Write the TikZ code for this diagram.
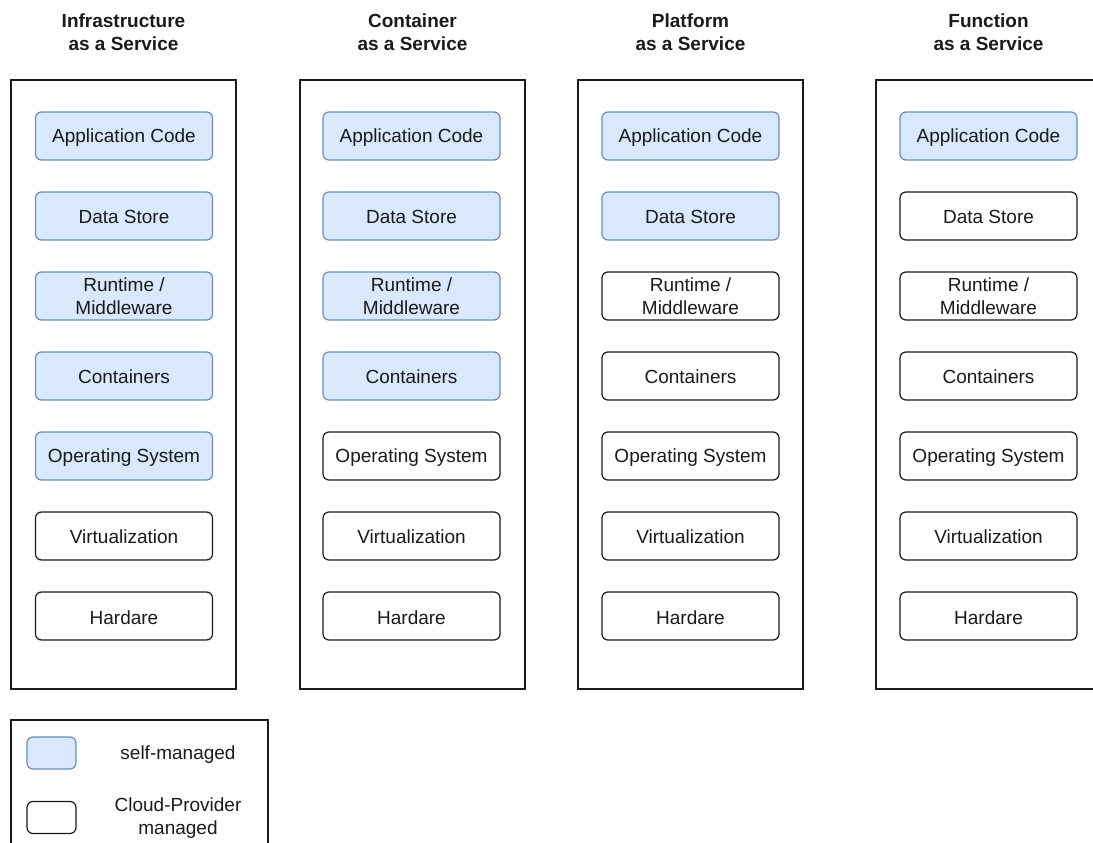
\documentclass[tikz,border=0pt]{standalone}
\usepackage{fontspec}
\setmainfont{Liberation Sans}
\definecolor{selffill}{HTML}{DAE8FC}
\definecolor{selfedge}{HTML}{6C8EBF}
\definecolor{ink}{HTML}{1A1A1A}
\begin{document}
\begin{tikzpicture}[x=1pt,y=-1pt,
  txt/.style={font=\fontsize{19}{23}\selectfont, text=ink, align=center},
  frame/.style={draw=ink, line width=1.2pt, minimum width=225pt, minimum height=609pt, inner sep=0pt},
  layer/.style={txt, rounded corners=6pt, line width=1.2pt, minimum width=177pt, minimum height=48pt, inner sep=0pt},
  self/.style={layer, draw=selfedge, fill=selffill},
  prov/.style={layer, draw=ink, fill=white},
  title/.style={txt, font=\fontsize{19}{23}\selectfont\bfseries},
  swatch/.style={rounded corners=6pt, line width=1.2pt, minimum width=49pt, minimum height=32pt, inner sep=0pt}]
\useasboundingbox (0,0) rectangle (1093,843);
\clip (0,0) rectangle (1093,843);
% column frames and titles
\node[frame] (f1) at (123.5,384.5) {};
\node[frame] (f2) at (412.5,384.5) {};
\node[frame] (f3) at (690.5,384.5) {};
\node[frame] (f4) at (988.5,384.5) {};
\node[title] (t1) at (123.5,32.5) {Infrastructure\\as a Service};
\node[title] (t2) at (412.5,32.5) {Container\\as a Service};
\node[title] (t3) at (690.5,32.5) {Platform\\as a Service};
\node[title] (t4) at (988.5,32.5) {Function\\as a Service};
% layers
\foreach \c/\x/\k in {1/124/5,2/411.5/4,3/690.5/2,4/988.5/1}{
  \foreach \r/\t/\d in {1/Application Code/2,2/Data Store/1,3/{Runtime /\\Middleware}/0.5,4/Containers/1,5/Operating System/2,6/Virtualization/1,7/Hardare/1.5}{
    \pgfmathsetmacro\yy{56+80*\r}
    \ifnum\r>\k\relax
      \node[prov] (c\c r\r) at (\x,\yy) {};
    \else
      \node[self] (c\c r\r) at (\x,\yy) {};
    \fi
    \node[txt] (l\c r\r) at ([yshift=-\d pt]c\c r\r.center) {\t};
  }
}
% legend
\node[draw=ink, line width=1.2pt, minimum width=257pt, minimum height=150pt, inner sep=0pt] (leg) at (139.5,795) {};
\node[swatch, draw=selfedge, fill=selffill] (s1) at (51.5,753) {};
\node[swatch, draw=ink, fill=white] (s2) at (51.5,817.5) {};
\node[txt] (l1) at (178,754.5) {self-managed};
\node[txt] (l2) at (178,818) {Cloud-Provider\\managed};
\end{tikzpicture}
\end{document}
